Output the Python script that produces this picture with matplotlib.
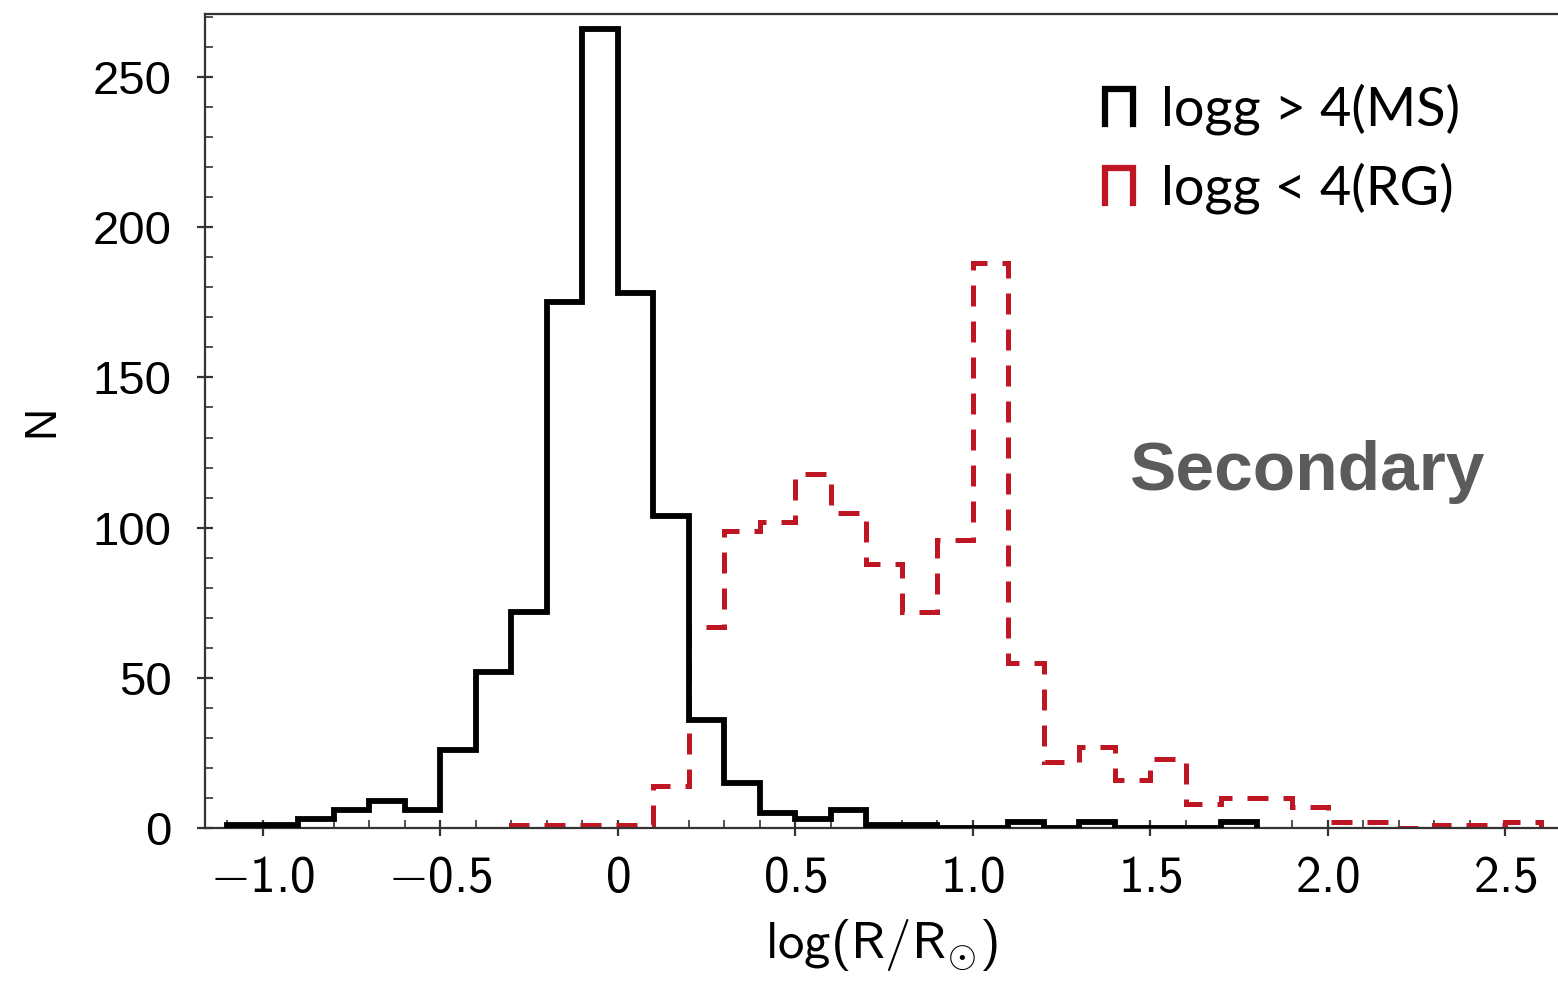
import numpy as np
import matplotlib.pyplot as plt
from matplotlib.legend_handler import HandlerBase
from matplotlib.lines import Line2D
from matplotlib.patches import StepPatch
from matplotlib.ticker import MultipleLocator

plt.rcParams['mathtext.fontset'] = 'custom'
plt.rcParams['mathtext.rm'] = 'cmss10'
plt.rcParams['mathtext.sf'] = 'cmss10'
plt.rcParams['mathtext.it'] = 'cmss10'

# histogram counts, bins of 0.1 in log(R/Rsun)
bin_width = 0.1
ms_start = -1.1
ms_counts = [1, 1, 3, 6, 9, 6, 26, 52, 72, 175, 266, 178, 104, 36, 15,
             5, 3, 6, 1, 1, 0, 0, 2, 0, 2, 0, 0, 0, 2]
rg_start = -0.3
rg_counts = [1, 1, 1, 1, 14, 67, 99, 102, 118, 105, 88, 72, 96, 188, 55,
             22, 27, 16, 23, 8, 10, 10, 7, 2, 2, 0, 1, 1, 2]
labels = ['logg > 4(MS)', 'logg < 4(RG)']
xticks = [-1.0, -0.5, 0.0, 0.5, 1.0, 1.5, 2.0, 2.5]
xtick_labels = ['-1.0', '-0.5', '0', '0.5', '1.0', '1.5', '2.0', '2.5']
yticks = [0, 50, 100, 150, 200, 250]

black = '#000000'
red = '#be1622'
spine_col = '#333333'


class PiHandler(HandlerBase):
    # open-bottom box, like the old step-histogram legend glyph
    def create_artists(self, legend, orig_handle, xdescent, ydescent,
                       width, height, fontsize, trans):
        x0, x1 = -xdescent, -xdescent + width
        y0, y1 = -ydescent, -ydescent + height
        ln = Line2D([x0, x0, x1, x1], [y0, y1, y1, y0],
                    color=orig_handle.get_edgecolor(), lw=4.5,
                    solid_joinstyle='miter', transform=trans)
        return [ln]


def edges_for(start, counts):
    return np.round(start + bin_width * np.arange(len(counts) + 1), 2)


fig = plt.figure(figsize=(15.58, 9.88), dpi=100)
ax = fig.add_axes([205 / 1558, 160 / 988, 1353 / 1558, 814 / 988])

ms = ax.stairs(ms_counts, edges_for(ms_start, ms_counts), baseline=0,
               color=black, lw=4.2, joinstyle='miter', zorder=3)
rg = ax.stairs(rg_counts, edges_for(rg_start, rg_counts), baseline=0,
               color=red, lw=3.6, linestyle=(0, (4.2, 3.0)), zorder=2)

ax.set_xlim(-1.163, 2.648)
ax.set_ylim(0, 271)

ax.set_xticks(xticks)
ax.set_xticklabels([r'$\mathrm{' + t + '}$' for t in xtick_labels])
ax.xaxis.set_minor_locator(MultipleLocator(0.1))
ax.set_yticks(yticks)
ax.yaxis.set_minor_locator(MultipleLocator(10))
for lab in ax.get_yticklabels():
    lab.set_family('Liberation Sans')

ax.tick_params(axis='both', which='major', direction='inout', length=12,
               width=1.6, color=spine_col)
ax.tick_params(axis='both', which='minor', direction='in', length=6,
               width=1.2, color=spine_col)
ax.tick_params(axis='x', which='major', labelsize=37, pad=12)
ax.tick_params(axis='y', which='major', labelsize=34, pad=18)

for side in ['left', 'bottom', 'top']:
    ax.spines[side].set_color(spine_col)
    ax.spines[side].set_linewidth(1.6)
ax.spines['right'].set_visible(False)

ax.set_xlabel(r'$\mathrm{log(R/R_{\odot})}$', fontsize=38, labelpad=10)
ax.set_ylabel('N', fontsize=32, family='Liberation Sans', labelpad=22)

ax.legend([ms, rg], labels, handler_map={StepPatch: PiHandler()},
          loc='upper left', bbox_to_anchor=(0.665, 0.915), frameon=False,
          prop={'family': 'Lato', 'size': 39}, handlelength=0.52,
          handleheight=0.62, handletextpad=0.52, labelspacing=0.5,
          borderpad=0, borderaxespad=0)

ax.text(0.815, 0.437, 'Secondary', transform=ax.transAxes, ha='center',
        va='center', fontsize=50, fontweight='bold', color='#5b5b5b',
        family='Liberation Sans')

fig.savefig('out.png', dpi=100)
